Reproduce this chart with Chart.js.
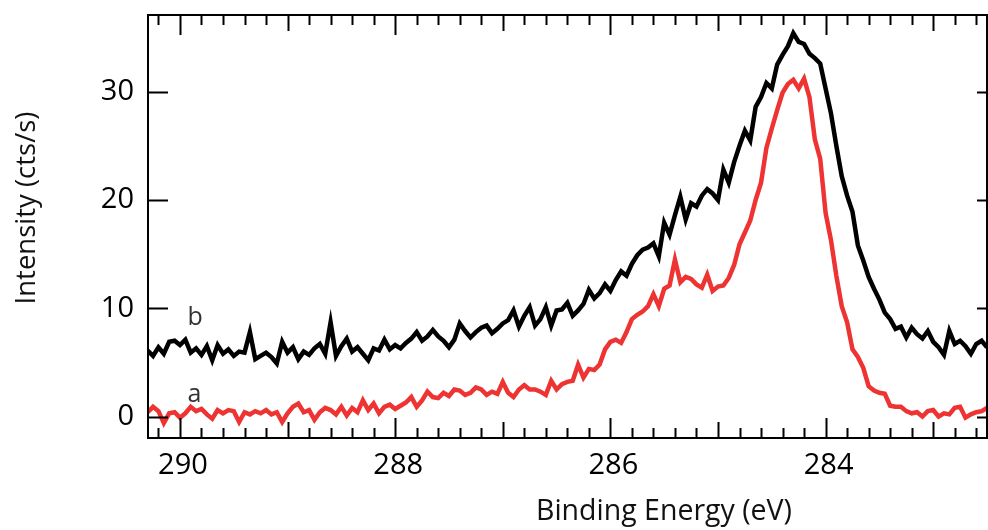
<!DOCTYPE html>
<html>
<head>
<meta charset="utf-8">
<script src="https://cdn.jsdelivr.net/npm/chart.js@4.4.1/dist/chart.umd.min.js"></script>
<style>
    html, body { margin: 0; padding: 0; background: #ffffff; }
    #wrap { width: 988px; height: 530px; }
</style>
</head>
<body>
<div id="wrap"><canvas id="xpsChart" width="988" height="530"></canvas></div>
<script>
// Binding energy grid (eV)
const energies = [
    290.30, 290.25, 290.20, 290.15, 290.10, 290.05, 290.00, 289.95, 289.90, 289.85,
    289.80, 289.75, 289.70, 289.65, 289.60, 289.55, 289.50, 289.45, 289.40, 289.35,
    289.30, 289.25, 289.20, 289.15, 289.10, 289.05, 289.00, 288.95, 288.90, 288.85,
    288.80, 288.75, 288.70, 288.65, 288.60, 288.55, 288.50, 288.45, 288.40, 288.35,
    288.30, 288.25, 288.20, 288.15, 288.10, 288.05, 288.00, 287.95, 287.90, 287.85,
    287.80, 287.75, 287.70, 287.65, 287.60, 287.55, 287.50, 287.45, 287.40, 287.35,
    287.30, 287.25, 287.20, 287.15, 287.10, 287.05, 287.00, 286.95, 286.90, 286.85,
    286.80, 286.75, 286.70, 286.65, 286.60, 286.55, 286.50, 286.45, 286.40, 286.35,
    286.30, 286.25, 286.20, 286.15, 286.10, 286.05, 286.00, 285.95, 285.90, 285.85,
    285.80, 285.75, 285.70, 285.65, 285.60, 285.55, 285.50, 285.45, 285.40, 285.35,
    285.30, 285.25, 285.20, 285.15, 285.10, 285.05, 285.00, 284.95, 284.90, 284.85,
    284.80, 284.75, 284.70, 284.65, 284.60, 284.55, 284.50, 284.45, 284.40, 284.35,
    284.30, 284.25, 284.20, 284.15, 284.10, 284.05, 284.00, 283.95, 283.90, 283.85,
    283.80, 283.75, 283.70, 283.65, 283.60, 283.55, 283.50, 283.45, 283.40, 283.35,
    283.30, 283.25, 283.20, 283.15, 283.10, 283.05, 283.00, 282.95, 282.90, 282.85,
    282.80, 282.75, 282.70, 282.65, 282.60, 282.55, 282.50
];

// spectrum b (black)
const intensityB = [
    6.1, 5.6, 6.4, 5.8, 6.9, 7.0, 6.6, 7.1, 5.9, 6.3,
    5.7, 6.5, 5.2, 6.6, 5.8, 6.2, 5.6, 6.0, 5.9, 7.8,
    5.3, 5.6, 5.9, 5.5, 4.9, 6.9, 5.9, 6.4, 5.3, 6.0,
    5.7, 6.3, 6.7, 5.8, 8.7, 5.6, 6.5, 7.2, 6.0, 6.4,
    5.8, 5.2, 6.3, 6.1, 7.1, 6.2, 6.6, 6.3, 6.8, 7.2,
    7.8, 7.0, 7.4, 8.0, 7.4, 7.0, 6.4, 7.1, 8.6, 7.9,
    7.3, 7.8, 8.2, 8.4, 7.7, 8.1, 8.6, 8.9, 9.8, 8.3,
    9.3, 10.1, 8.4, 9.0, 10.1, 8.4, 9.8, 9.9, 10.5, 9.3,
    9.8, 10.4, 11.7, 10.9, 11.4, 12.2, 11.6, 12.6, 13.4, 13.0,
    14.1, 14.9, 15.4, 15.6, 16.0, 14.8, 17.9, 16.8, 18.6, 20.3,
    18.2, 19.7, 19.4, 20.4, 21.0, 20.6, 20.0, 22.8, 21.6, 23.5,
    25.0, 26.4, 25.5, 28.6, 29.5, 30.8, 30.3, 32.5, 33.4, 34.2,
    35.4, 34.6, 34.4, 33.5, 33.1, 32.6, 30.3, 28.0, 25.0, 22.2,
    20.4, 18.9, 15.8, 14.4, 12.9, 11.8, 10.8, 9.6, 9.0, 8.1,
    8.3, 7.3, 8.2, 7.6, 7.2, 7.9, 6.9, 6.4, 5.7, 7.9,
    6.7, 7.0, 6.5, 5.8, 6.7, 7.0, 6.4
];

// spectrum a (red)
const intensityA = [
    0.4, 0.9, 0.5, -0.6, 0.3, 0.4, -0.1, 0.3, 0.9, 0.5,
    0.7, 0.2, -0.2, 0.6, 0.3, 0.6, 0.5, -0.5, 0.4, 0.2,
    0.5, 0.3, 0.6, 0.2, 0.4, -0.5, 0.3, 0.9, 1.2, 0.4,
    0.6, -0.3, 0.4, 0.8, 0.6, 0.2, 0.9, 0.1, 0.8, 0.4,
    1.5, 0.6, 1.2, 0.3, 0.9, 1.1, 0.7, 1.0, 1.3, 1.8,
    0.9, 1.5, 2.3, 1.8, 1.7, 2.2, 1.9, 2.5, 2.4, 2.0,
    2.2, 2.7, 2.5, 2.0, 2.3, 2.1, 3.2, 2.2, 1.8, 2.5,
    2.9, 2.5, 2.5, 2.3, 2.0, 3.3, 2.5, 3.0, 3.2, 3.3,
    4.8, 3.6, 4.4, 4.3, 4.8, 6.2, 6.9, 7.1, 6.8, 7.8,
    9.0, 9.4, 9.7, 10.2, 11.3, 10.2, 11.8, 12.1, 14.5, 12.4,
    12.9, 12.7, 12.2, 11.9, 13.1, 11.6, 12.0, 12.1, 12.8, 14.0,
    15.9, 17.0, 18.1, 20.0, 21.6, 24.8, 26.6, 28.3, 29.9, 30.7,
    31.1, 30.3, 31.2, 29.5, 25.6, 23.8, 18.8, 16.3, 13.0, 10.2,
    8.7, 6.2, 5.5, 4.5, 2.8, 2.4, 2.2, 2.1, 1.0, 0.9,
    0.9, 0.5, 0.3, 0.4, 0.0, 0.5, 0.6, 0.0, 0.3, 0.2,
    0.8, 0.9, -0.1, 0.2, 0.4, 0.5, 0.8
];

const xTickValues = [290, 288, 286, 284];
const yTickValues = [0, 10, 20, 30];

// curve labels
const curveLabels = ["b", "a"];
const curveLabelEnergy = [289.93, 289.93];
const curveLabelIntensity = [8.45, 1.35];

const FONT = "'Open Sans', 'DejaVu Sans', sans-serif";
const RED = "#ee3333";

// frame, inward ticks, axis titles and curve labels
const decorations = {
    id: "decorations",
    afterDatasetsDraw(chart) {
        const { ctx, chartArea: a, scales: { x, y } } = chart;
        ctx.save();
        ctx.strokeStyle = "#000";
        ctx.lineWidth = 2;
        ctx.lineCap = "butt";

        ctx.beginPath();
        ctx.rect(a.left, a.top, a.right - a.left, a.bottom - a.top);
        ctx.stroke();

        // x ticks every 0.2 eV, top and bottom
        for (let k = Math.ceil(x.min * 5); k <= Math.floor(x.max * 5); k++) {
            const px = Math.round(x.getPixelForValue(k / 5)) + 0.5;
            let len = 10;
            if (k % 10 === 0) len = 20;
            else if (k % 5 === 0) len = 16;
            ctx.beginPath();
            ctx.moveTo(px, a.bottom);
            ctx.lineTo(px, a.bottom - len);
            ctx.moveTo(px, a.top);
            ctx.lineTo(px, a.top + len);
            ctx.stroke();
        }

        // y ticks
        yTickValues.forEach(v => {
            const py = Math.round(y.getPixelForValue(v)) + 0.5;
            ctx.beginPath();
            ctx.moveTo(a.left, py);
            ctx.lineTo(a.left + 20, py);
            ctx.moveTo(a.right, py);
            ctx.lineTo(a.right - 10, py);
            ctx.stroke();
        });

        // axis titles
        ctx.fillStyle = "#111";
        ctx.font = "28.5px " + FONT;
        ctx.textAlign = "center";
        ctx.textBaseline = "alphabetic";
        ctx.fillText("Binding Energy (eV)", 664, 520);

        ctx.save();
        ctx.translate(35, 208);
        ctx.rotate(-Math.PI / 2);
        ctx.font = "27.5px " + FONT;
        ctx.fillText("Intensity (cts/s)", 0, 0);
        ctx.restore();

        // curve labels
        ctx.fillStyle = "#333";
        ctx.font = "25px " + FONT;
        ctx.textAlign = "left";
        curveLabels.forEach((t, i) => {
            ctx.fillText(t, x.getPixelForValue(curveLabelEnergy[i]), y.getPixelForValue(curveLabelIntensity[i]));
        });
        ctx.restore();
    }
};

new Chart(document.getElementById("xpsChart").getContext("2d"), {
    type: "line",
    data: {
        datasets: [
            {
                label: "b",
                data: energies.map((e, i) => ({ x: e, y: intensityB[i] })),
                borderColor: "#000000",
                borderWidth: 4.5,
                pointRadius: 0,
                tension: 0,
                fill: false
            },
            {
                label: "a",
                data: energies.map((e, i) => ({ x: e, y: intensityA[i] })),
                borderColor: RED,
                borderWidth: 4.5,
                pointRadius: 0,
                tension: 0,
                fill: false
            }
        ]
    },
    options: {
        responsive: false,
        animation: false,
        devicePixelRatio: 1,
        layout: { padding: { top: 15, right: 1, left: 0, bottom: 0 } },
        plugins: { legend: { display: false }, tooltip: { enabled: false } },
        scales: {
            x: {
                type: "linear",
                reverse: true,
                min: 282.5,
                max: 290.297,
                grid: { display: false },
                border: { display: false },
                afterBuildTicks: s => { s.ticks = xTickValues.map(v => ({ value: v })); },
                afterFit: s => { s.height = 92; s.paddingLeft = 0; s.paddingRight = 0; },
                ticks: {
                    color: "#000",
                    font: { family: FONT, size: 29 },
                    padding: 2,
                    labelOffset: 3,
                    maxRotation: 0,
                    callback: v => v.toString()
                }
            },
            y: {
                type: "linear",
                min: -1.98,
                max: 37.08,
                grid: { display: false },
                border: { display: false },
                afterBuildTicks: s => { s.ticks = yTickValues.map(v => ({ value: v })); },
                afterFit: s => { s.width = 148; s.paddingTop = 0; s.paddingBottom = 0; },
                ticks: {
                    color: "#000",
                    font: { family: FONT, size: 29 },
                    padding: 6,
                    callback: v => v.toString()
                }
            }
        }
    },
    plugins: [decorations]
});
</script>
</body>
</html>
